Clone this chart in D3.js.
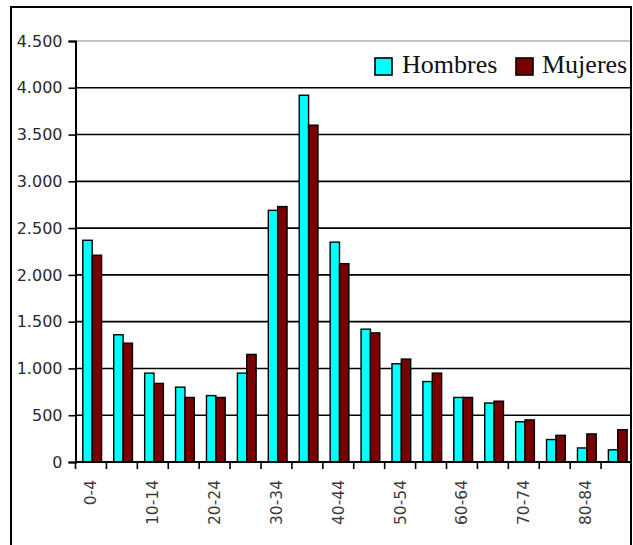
<!DOCTYPE html>
<html>
<head>
<meta charset="utf-8" />
<title>Hombres y Mujeres por edad</title>
<script src="https://d3js.org/d3.v7.min.js"></script>
<style>
  body, html {
    margin: 0;
    background: #ffffff;
  }
  .ylab {
    font-family: 'DejaVu Sans', sans-serif;
    font-size: 16px;
    fill: #2a2a2a;
  }
  .xlab {
    font-family: 'DejaVu Sans', sans-serif;
    font-size: 15.5px;
    fill: #3a3a3a;
  }
  .legend {
    font-family: 'Liberation Serif', 'Times New Roman', serif;
    font-size: 26px;
    fill: #111111;
  }
</style>
</head>
<body>

<svg id="viz"></svg>

<script>

// age groups
var ageGroups = ['0-4', '5-9', '10-14', '15-19', '20-24', '25-29', '30-34', '35-39', '40-44',
  '45-49', '50-54', '55-59', '60-64', '65-69', '70-74', '75-79', '80-84', '85+'];

var seriesNames = ['Hombres', 'Mujeres'];
var seriesColors = ['#00ffff', '#7a0000'];

var hombres = [2370, 1360, 950, 800, 710, 950, 2690, 3920, 2350, 1420, 1050, 860, 690, 630, 430, 240, 150, 130];
var mujeres = [2210, 1270, 840, 690, 690, 1150, 2730, 3600, 2120, 1380, 1100, 950, 690, 650, 450, 285, 300, 345];

var yTicks = [0, 500, 1000, 1500, 2000, 2500, 3000, 3500, 4000, 4500];

var width = 633,
  height = 545;

var svg = d3.select("#viz")
  .attr("width", width)
  .attr("height", height);

var xScale = d3.scaleBand()
  .domain(ageGroups)
  .range([75.5, 632])
  .padding(0);

var xInner = d3.scaleBand()
  .domain(seriesNames)
  .range([0, xScale.bandwidth()])
  .paddingInner(0)
  .paddingOuter(0.65)
  .align(0.6);

var yScale = d3.scaleLinear()
  .domain([0, 4500])
  .range([462, 41]);

var esLocale = d3.formatLocale({decimal: ",", thousands: ".", grouping: [3], currency: ["", " €"]});
var fmt = esLocale.format(",");

// gridlines
svg.append("g")
  .selectAll("line")
  .data(yTicks.filter(function(d) { return d > 0; }))
  .enter().append("line")
    .attr("x1", xScale.range()[0])
    .attr("x2", xScale.range()[1])
    .attr("y1", function(d) { return yScale(d); })
    .attr("y2", function(d) { return yScale(d); })
    .attr("stroke", function(d) { return d == 4500 ? "#8a8a8a" : "#000"; })
    .attr("stroke-width", function(d) { return d == 4500 ? 1.2 : 1.6; });

// bars
var table = ageGroups.map(function(g, i) {
  return {group: g, values: [hombres[i], mujeres[i]]};
});

var groups = svg.append("g")
  .selectAll("g")
  .data(table)
  .enter().append("g")
    .attr("transform", function(d) { return "translate(" + xScale(d.group) + ",0)"; });

groups.selectAll("rect")
  .data(function(d) {
    return d.values.map(function(v, j) { return {name: seriesNames[j], value: v, color: seriesColors[j]}; });
  })
  .enter().append("rect")
    .attr("x", function(d) { return xInner(d.name); })
    .attr("width", xInner.bandwidth())
    .attr("y", function(d) { return yScale(d.value); })
    .attr("height", function(d) { return yScale(0) - yScale(d.value); })
    .attr("fill", function(d) { return d.color; })
    .attr("stroke", "#000")
    .attr("stroke-width", 1.4);

// y axis
var yAxis = svg.append("g")
  .attr("transform", "translate(" + xScale.range()[0] + ",0)")
  .call(d3.axisLeft(yScale)
    .tickValues(yTicks)
    .tickSize(7)
    .tickPadding(6)
    .tickFormat(fmt));
yAxis.select(".domain").attr("stroke", "#000").attr("stroke-width", 2);
yAxis.selectAll(".tick line").attr("stroke", "#000").attr("stroke-width", 1.6);
yAxis.selectAll("text").attr("class", "ylab").attr("fill", null).attr("font-size", null).attr("font-family", null);

// x axis line and ticks at category boundaries
svg.append("line")
  .attr("x1", xScale.range()[0])
  .attr("x2", xScale.range()[1])
  .attr("y1", yScale(0))
  .attr("y2", yScale(0))
  .attr("stroke", "#000")
  .attr("stroke-width", 2);

svg.append("g")
  .selectAll("line")
  .data(ageGroups)
  .enter().append("line")
    .attr("x1", function(d) { return xScale(d); })
    .attr("x2", function(d) { return xScale(d); })
    .attr("y1", yScale(0))
    .attr("y2", yScale(0) + 7)
    .attr("stroke", "#000")
    .attr("stroke-width", 1.6);

// x labels, every other one
svg.append("g")
  .selectAll("text")
  .data(ageGroups.filter(function(d, i) { return i % 2 == 0; }))
  .enter().append("text")
    .attr("class", "xlab")
    .attr("text-anchor", "end")
    .attr("dy", "0.35em")
    .attr("transform", function(d) {
      return "translate(" + (xScale(d) + xScale.bandwidth() / 2) + "," + 480 + ") rotate(-90)";
    })
    .text(function(d) { return d; });

// legend
var legend = svg.append("g");
var legendX = [375, 516];
var legendTextX = [402, 542];

legend.selectAll("rect")
  .data(seriesNames)
  .enter().append("rect")
    .attr("x", function(d, i) { return legendX[i]; })
    .attr("y", 58)
    .attr("width", 17)
    .attr("height", 17)
    .attr("fill", function(d, i) { return seriesColors[i]; })
    .attr("stroke", "#000")
    .attr("stroke-width", 1.6);

legend.selectAll("text")
  .data(seriesNames)
  .enter().append("text")
    .attr("class", "legend")
    .attr("x", function(d, i) { return legendTextX[i]; })
    .attr("y", 73)
    .text(function(d) { return d; });

// outer frame
svg.append("rect")
  .attr("x", 11)
  .attr("y", 7)
  .attr("width", 620)
  .attr("height", 545)
  .attr("fill", "none")
  .attr("stroke", "#000")
  .attr("stroke-width", 2);

</script>
</body>
</html>
